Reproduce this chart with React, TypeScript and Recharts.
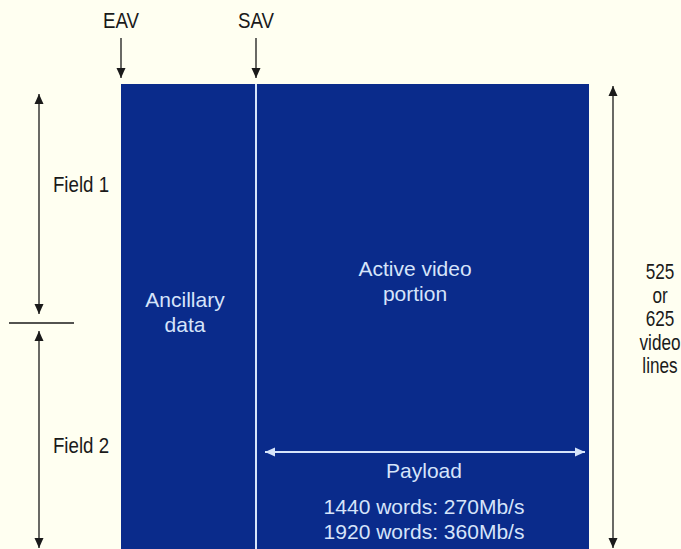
import React from 'react';
import { ComposedChart, XAxis, YAxis, ReferenceArea, ReferenceLine, ReferenceDot } from 'recharts';

const WIDTH = 681;
const HEIGHT = 549;

// Text content
const markerLabels = ['EAV', 'SAV'];
const fieldLabels = ['Field 1', 'Field 2'];
const ancillaryLines = ['Ancillary', 'data'];
const activeLines = ['Active video', 'portion'];
const payloadLines = ['Payload', '1440 words: 270Mb/s', '1920 words: 360Mb/s'];
const lineCountLines = ['525', 'or', '625', 'video', 'lines'];

// Layout (diagram units = pixels)
const FRAME = { x1: 121, x2: 589, y1: 84, y2: 549 };
const DIVIDER_X = 256;
const markerX = [121, 256];
const fieldY = [192, 453];
const BLUE = '#0a2b8b';
const LIGHT = '#d6e4fa';
const INK = '#1a1a1a';
const FONT = '"Liberation Sans", Arial, Helvetica, sans-serif';

type Seg = { x1: number; y1: number; x2: number; y2: number; start: boolean; end: boolean; color: string };
const arrows: Seg[] = [
  { x1: markerX[0], y1: 38, x2: markerX[0], y2: 78, start: false, end: true, color: INK },
  { x1: markerX[1], y1: 38, x2: markerX[1], y2: 78, start: false, end: true, color: INK },
  { x1: 39, y1: 94, x2: 39, y2: 314, start: true, end: true, color: INK },
  { x1: 39, y1: 331, x2: 39, y2: 548, start: true, end: true, color: INK },
  { x1: 9, y1: 323, x2: 74, y2: 323, start: false, end: false, color: INK },
  { x1: 613, y1: 86, x2: 613, y2: 548, start: true, end: true, color: INK },
  { x1: 265, y1: 452, x2: 585, y2: 452, start: true, end: true, color: LIGHT },
];

type Txt = { x: number; y: number; text: string; color: string; size: number; sx: number };
const dark = (x: number, y: number, text: string, sx = 0.85): Txt => ({ x, y, text, color: INK, size: 22, sx });
const light = (x: number, y: number, text: string): Txt => ({ x, y, text, color: LIGHT, size: 21, sx: 1 });
const texts: Txt[] = [
  ...markerLabels.map((t, i) => dark(markerX[i], 28, t)),
  ...fieldLabels.map((t, i) => dark(81, fieldY[i], t)),
  ...ancillaryLines.map((t, i) => light(185, 307 + i * 24.5, t)),
  ...activeLines.map((t, i) => light(415, 276 + i * 24.5, t)),
  light(424, 478, payloadLines[0]),
  ...payloadLines.slice(1).map((t, i) => light(424, 514 + i * 25, t)),
  ...lineCountLines.map((t, i) => dark(660, 279 + i * 23.5, t, 0.78)),
];

const makeHead = (dx: number, dy: number, color: string) => (props: any) => {
  const { cx, cy } = props;
  const len = 10;
  const hw = 4.5;
  const bx = cx - dx * len;
  const by = cy - dy * len;
  const px = -dy * hw;
  const py = dx * hw;
  return (
    <polygon
      points={`${cx},${cy} ${bx + px},${by + py} ${bx - px},${by - py}`}
      fill={color}
      stroke="none"
    />
  );
};

const makeText = (t: Txt) => (props: any) => (
  <text
    x={0}
    y={0}
    transform={`translate(${props.cx},${props.cy}) scale(${t.sx},1)`}
    textAnchor="middle"
    fill={t.color}
    fontFamily={FONT}
    fontSize={t.size}
  >
    {t.text}
  </text>
);

export default function App() {
  const heads: React.ReactNode[] = [];
  arrows.forEach((a, i) => {
    const L = Math.hypot(a.x2 - a.x1, a.y2 - a.y1);
    const ux = (a.x2 - a.x1) / L;
    const uy = (a.y2 - a.y1) / L;
    if (a.end) {
      heads.push(
        <ReferenceDot key={`he${i}`} x={a.x2} y={a.y2} r={0} ifOverflow="visible" shape={makeHead(ux, uy, a.color)} />
      );
    }
    if (a.start) {
      heads.push(
        <ReferenceDot key={`hs${i}`} x={a.x1} y={a.y1} r={0} ifOverflow="visible" shape={makeHead(-ux, -uy, a.color)} />
      );
    }
  });

  return (
    <div style={{ position: 'fixed', left: 0, top: 0, width: WIDTH, height: HEIGHT, background: '#fffff1' }}>
      <ComposedChart width={WIDTH} height={HEIGHT} margin={{ top: 0, right: 0, bottom: 0, left: 0 }} data={[]}>
        <XAxis type="number" dataKey="x" domain={[0, WIDTH]} hide allowDataOverflow />
        <YAxis type="number" dataKey="y" domain={[0, HEIGHT]} reversed hide allowDataOverflow />
        <ReferenceArea x1={FRAME.x1} x2={FRAME.x2} y1={FRAME.y1} y2={FRAME.y2} fill={BLUE} fillOpacity={1} stroke="none" ifOverflow="visible" />
        <ReferenceLine
          segment={[{ x: DIVIDER_X, y: FRAME.y1 }, { x: DIVIDER_X, y: FRAME.y2 }]}
          stroke={LIGHT}
          strokeWidth={2}
          ifOverflow="visible"
        />
        {arrows.map((a, i) => (
          <ReferenceLine
            key={`a${i}`}
            segment={[{ x: a.x1, y: a.y1 }, { x: a.x2, y: a.y2 }]}
            stroke={a.color}
            strokeWidth={a.color === LIGHT ? 2 : 1.3}
            ifOverflow="visible"
          />
        ))}
        {heads}
        {texts.map((t, i) => (
          <ReferenceDot key={`t${i}`} x={t.x} y={t.y} r={0} ifOverflow="visible" shape={makeText(t)} />
        ))}
      </ComposedChart>
    </div>
  );
}
